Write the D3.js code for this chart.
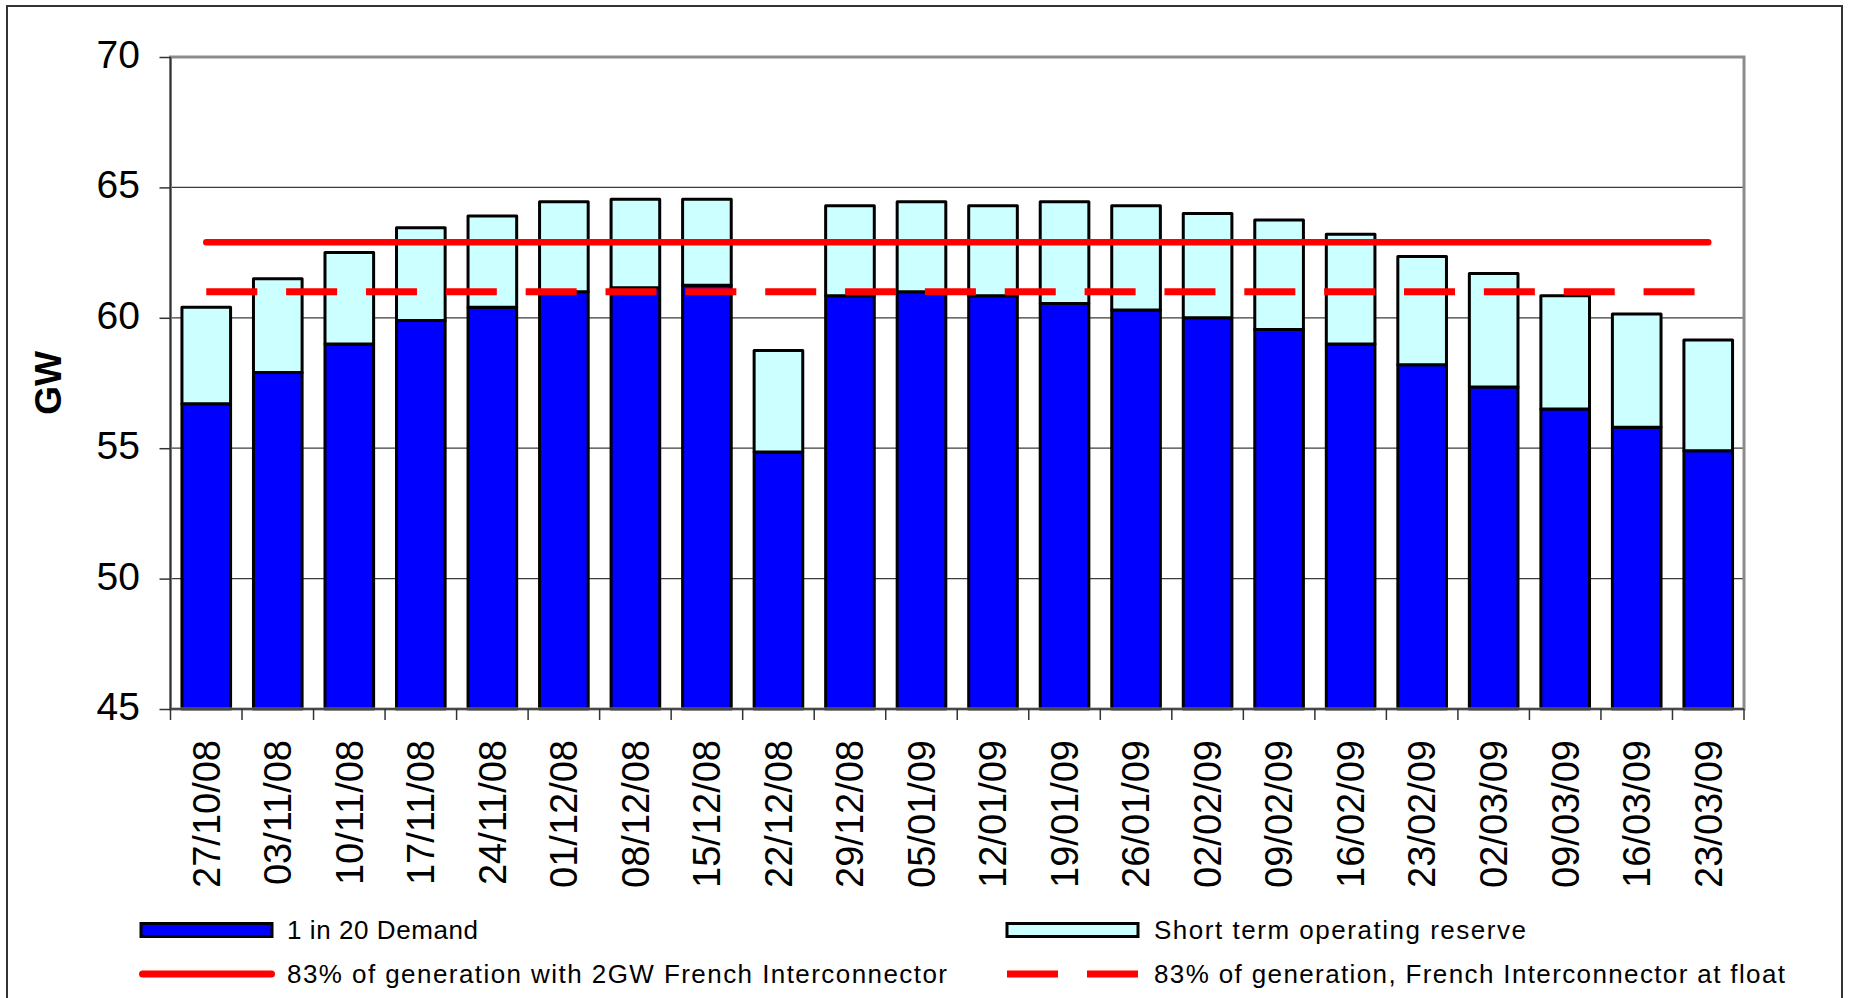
<!DOCTYPE html>
<html>
<head>
<meta charset="utf-8">
<script src="https://cdn.jsdelivr.net/npm/d3@7"></script>
<style>
  html, body { margin: 0; padding: 0; background: #fff; }
  svg { display: block; }
  text { font-family: "Liberation Sans", Arial, sans-serif; fill: #000; }
</style>
</head>
<body>
<svg id="chart" width="1851" height="998"></svg>
<script>
// Weekly categories (week commencing)
const categories = [
  "27/10/08", "03/11/08", "10/11/08", "17/11/08", "24/11/08", "01/12/08",
  "08/12/08", "15/12/08", "22/12/08", "29/12/08", "05/01/09", "12/01/09",
  "19/01/09", "26/01/09", "02/02/09", "09/02/09", "16/02/09", "23/02/09",
  "02/03/09", "09/03/09", "16/03/09", "23/03/09"
];

// 1 in 20 demand, GW
const demand = [
  56.7, 57.9, 59.0, 59.9, 60.4, 61.0, 61.15, 61.25, 54.85, 60.85, 61.0,
  60.85, 60.55, 60.3, 60.0, 59.55, 59.0, 58.2, 57.35, 56.5, 55.8, 54.9
];

// Short term operating reserve stacked on top of demand, GW
const reserve = [
  3.7, 3.6, 3.5, 3.55, 3.5, 3.45, 3.4, 3.3, 3.9, 3.45, 3.45,
  3.45, 3.9, 4.0, 4.0, 4.2, 4.2, 4.15, 4.35, 4.35, 4.35, 4.25
];

// 83% of generation with 2GW French Interconnector, GW
const generationWith2GW = [
  62.9, 62.9, 62.9, 62.9, 62.9, 62.9, 62.9, 62.9, 62.9, 62.9, 62.9,
  62.9, 62.9, 62.9, 62.9, 62.9, 62.9, 62.9, 62.9, 62.9, 62.9, 62.9
];

// 83% of generation, French Interconnector at float, GW
const generationAtFloat = [
  61.0, 61.0, 61.0, 61.0, 61.0, 61.0, 61.0, 61.0, 61.0, 61.0, 61.0,
  61.0, 61.0, 61.0, 61.0, 61.0, 61.0, 61.0, 61.0, 61.0, 61.0, 61.0
];

const yTickValues = [45, 50, 55, 60, 65, 70];
const yDomain = [45, 70];

const seriesLabels = {
  demand: "1 in 20 Demand",
  reserve: "Short term operating reserve",
  with2GW: "83% of generation with 2GW French Interconnector",
  atFloat: "83% of generation, French Interconnector at float"
};

// ---------------------------------------------------------------
const svg = d3.select("#chart");
const plot = { left: 170.5, right: 1744, top: 57, bottom: 709 };
const colors = { demand: "#0000ff", reserve: "#ccffff", line: "#ff0000" };

// outer chart frame
svg.append("rect")
  .attr("x", 7).attr("y", 6)
  .attr("width", 1835).attr("height", 1010)
  .attr("fill", "#fff").attr("stroke", "#333").attr("stroke-width", 2);

const xCat = d3.scaleBand().domain(categories).range([plot.left, plot.right]);
const x = d3.scaleBand().domain(categories).range([plot.left, plot.right])
  .paddingInner(0.32).paddingOuter(0.16);
const y = d3.scaleLinear().domain(yDomain).range([plot.bottom, plot.top]).clamp(true);
const cx = c => xCat(c) + xCat.bandwidth() / 2;

// horizontal gridlines
svg.append("g").selectAll("line")
  .data(yTickValues.filter(v => v > yDomain[0] && v < yDomain[1]))
  .join("line")
  .attr("x1", plot.left).attr("x2", plot.right)
  .attr("y1", d => y(d)).attr("y2", d => y(d))
  .attr("stroke", "#3c3c3c").attr("stroke-width", 1.3);

// stacked bars
const rows = categories.map((c, i) => ({ category: c, demand: demand[i], reserve: reserve[i] }));
const stacked = d3.stack().keys(["demand", "reserve"])(rows);

svg.append("g").selectAll("g")
  .data(stacked)
  .join("g")
  .attr("fill", d => colors[d.key])
  .selectAll("rect")
  .data(d => d)
  .join("rect")
  .attr("x", d => x(d.data.category))
  .attr("width", x.bandwidth())
  .attr("y", d => y(d[1]))
  .attr("height", d => y(d[0]) - y(d[1]))
  .attr("stroke", "#000").attr("stroke-width", 3)
  .attr("stroke-linejoin", "round");

// plot area border (grey) with darker axis lines
svg.append("rect")
  .attr("x", plot.left).attr("y", plot.top)
  .attr("width", plot.right - plot.left).attr("height", plot.bottom - plot.top)
  .attr("fill", "none").attr("stroke", "#8c8c8c").attr("stroke-width", 3);
svg.append("line")
  .attr("x1", plot.left).attr("x2", plot.left)
  .attr("y1", plot.top).attr("y2", plot.bottom)
  .attr("stroke", "#333").attr("stroke-width", 1.5);
svg.append("line")
  .attr("x1", plot.left).attr("x2", plot.right)
  .attr("y1", plot.bottom).attr("y2", plot.bottom)
  .attr("stroke", "#333").attr("stroke-width", 1.5);

// y axis
const yAxis = svg.append("g")
  .attr("transform", `translate(${plot.left},0)`)
  .call(d3.axisLeft(y).tickValues(yTickValues).tickSize(11).tickPadding(19.5)
    .tickFormat(d3.format("d")));
yAxis.select(".domain").remove();
yAxis.selectAll(".tick line").attr("stroke", "#333").attr("stroke-width", 1.5);
yAxis.selectAll(".tick text")
  .attr("dy", "0.27em")
  .style("font-size", "39px")
  .style("font-family", '"Liberation Sans", Arial, sans-serif')
  .attr("fill", "#000");

// x axis: tick marks at category boundaries
const boundaries = categories.map(c => xCat(c)).concat([xCat.range()[1]]);
svg.append("g").selectAll("line")
  .data(boundaries)
  .join("line")
  .attr("x1", d => d).attr("x2", d => d)
  .attr("y1", plot.bottom).attr("y2", plot.bottom + 11)
  .attr("stroke", "#333").attr("stroke-width", 1.5);

// x axis labels, rotated
svg.append("g").selectAll("text")
  .data(categories)
  .join("text")
  .attr("transform", d => `translate(${cx(d)},${plot.bottom + 31}) rotate(-90)`)
  .attr("text-anchor", "end")
  .attr("dy", "0.35em")
  .style("font-size", "38px")
  .text(d => d);

// y axis title
svg.append("text")
  .attr("transform", "translate(48,383) rotate(-90)")
  .attr("text-anchor", "middle")
  .attr("dy", "0.35em")
  .style("font-size", "37px")
  .style("font-weight", "bold")
  .text("GW");

// reference lines
const line = d3.line().x((d, i) => cx(categories[i])).y(d => y(d));

svg.append("path")
  .datum(generationWith2GW)
  .attr("d", line)
  .attr("fill", "none")
  .attr("stroke", colors.line).attr("stroke-width", 6.5)
  .attr("stroke-linecap", "round");

svg.append("path")
  .datum(generationAtFloat)
  .attr("d", line)
  .attr("fill", "none")
  .attr("stroke", colors.line).attr("stroke-width", 7)
  .attr("stroke-dasharray", "51,28.85");

// legend
const legend = svg.append("g");
const legendItems = [
  { key: "demand", type: "box", sx: 141, tx: 287, cy: 930, tlen: 191 },
  { key: "reserve", type: "box", sx: 1007, tx: 1154, cy: 930, tlen: 372 },
  { key: "with2GW", type: "solid", sx: 139, tx: 287, cy: 974, tlen: 660 },
  { key: "atFloat", type: "dash", sx: 1007, tx: 1154, cy: 974, tlen: 631 }
];

legendItems.forEach(item => {
  if (item.type === "box") {
    legend.append("rect")
      .attr("x", item.sx).attr("y", item.cy - 6.5)
      .attr("width", 131).attr("height", 13)
      .attr("fill", colors[item.key])
      .attr("stroke", "#000").attr("stroke-width", 3);
  } else {
    legend.append("line")
      .attr("x1", item.type === "solid" ? item.sx + 3.5 : item.sx)
      .attr("x2", item.type === "solid" ? item.sx + 132.5 : item.sx + 131)
      .attr("y1", item.cy).attr("y2", item.cy)
      .attr("stroke", colors.line).attr("stroke-width", 7)
      .attr("stroke-linecap", item.type === "solid" ? "round" : "butt")
      .attr("stroke-dasharray", item.type === "dash" ? "51,29" : null);
  }
  legend.append("text")
    .attr("x", item.tx).attr("y", item.cy)
    .attr("dy", "0.33em")
    .attr("textLength", item.tlen)
    .attr("lengthAdjust", "spacing")
    .style("font-size", "26px")
    .text(seriesLabels[item.key]);
});
</script>
</body>
</html>
